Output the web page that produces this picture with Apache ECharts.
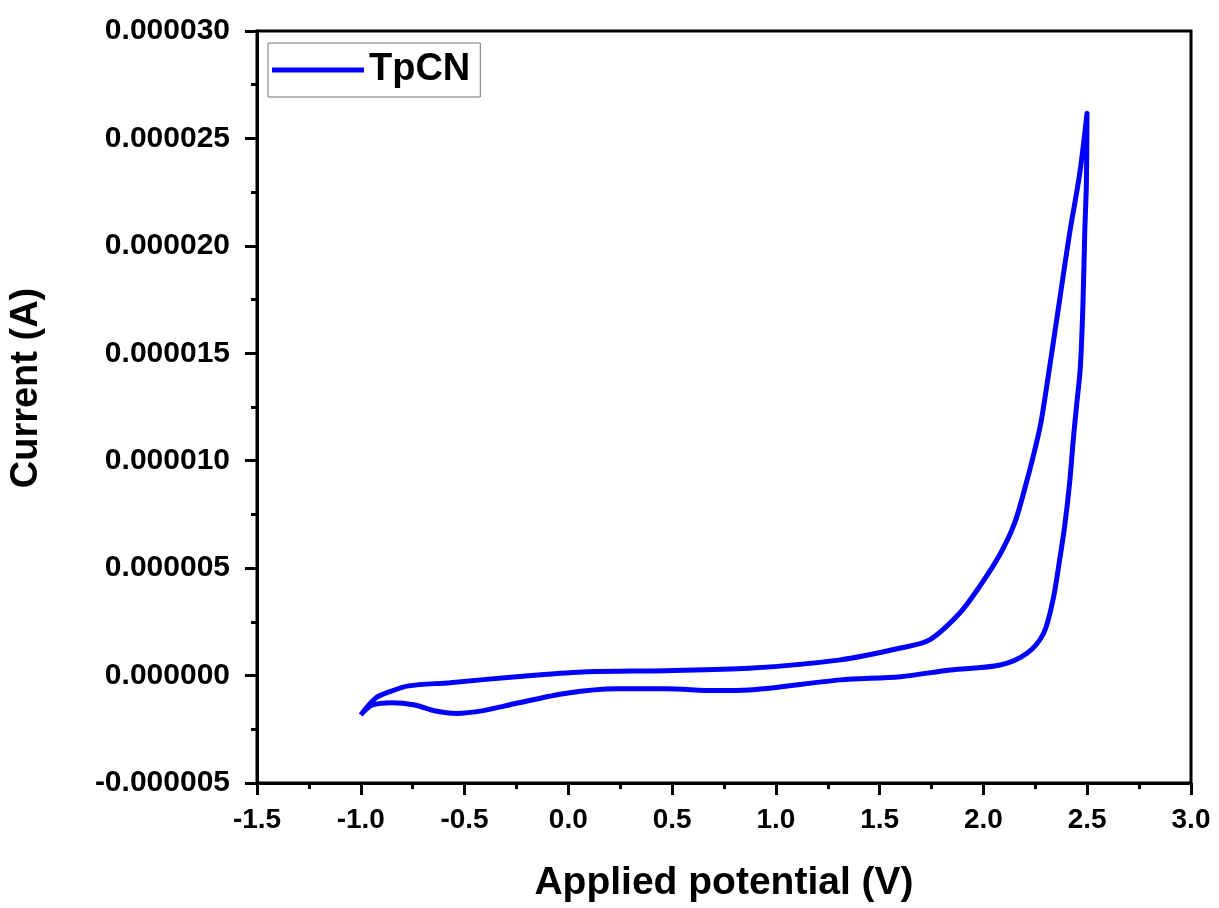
<!DOCTYPE html>
<html>
<head>
<meta charset="utf-8">
<script src="https://cdn.jsdelivr.net/npm/echarts@6/dist/echarts.min.js"></script>
<style>
  html, body { margin: 0; padding: 0; background: #fff; }
  #chart { width: 1219px; height: 908px; }
</style>
</head>
<body>
<div id="chart"></div>
<script>
// forward scan (-1.0 V -> 2.5 V), then reverse scan back to -1.0 V
const potential = [
  -1.00, -0.944, -0.85, -0.74, -0.64, -0.54, -0.41, -0.25, -0.01, 0.23, 0.47, 0.71, 0.87,
  1.31, 1.60, 1.84, 2.08, 2.21, 2.29, 2.335, 2.367, 2.391, 2.415, 2.433, 2.448, 2.467, 2.48, 2.488, 2.496, 2.499,
  2.464, 2.415, 2.367, 2.319, 2.279, 2.255, 2.206, 2.15, 2.078, 1.981, 1.885, 1.74, 1.595,
  1.31, 0.87, 0.47, 0.07, -0.25, -0.57, -0.77, -0.86, -0.93, -1.00
];
// current in microamps, converted to A below
const currentUA = [
  -1.83, -1.37, -1.26, -1.37, -1.65, -1.76, -1.63, -1.29, -0.82, -0.61, -0.61, -0.70, -0.67,
  -0.20, -0.05, 0.26, 0.49, 1.04, 1.97, 3.52, 5.38, 6.93, 8.95, 11.0, 12.5, 14.37, 17.48, 20.58, 22.91, 26.17,
  23.37, 20.58, 17.48, 14.37, 11.89, 10.81, 8.95, 7.09, 5.61, 4.14, 2.90, 1.66, 1.27,
  0.73, 0.34, 0.23, 0.17, -0.05, -0.33, -0.48, -0.75, -1.06, -1.83
];
const seriesName = 'TpCN';

const data = potential.map((v, i) => [v, currentUA[i] * 1e-6]);

const chart = echarts.init(document.getElementById('chart'));
const font = '"Liberation Sans", Arial, sans-serif';
const blue = '#0000ff';

chart.setOption({
  animation: false,
  grid: {
    left: 257, right: 28, top: 31, bottom: 125,
    show: true, borderColor: '#000', borderWidth: 3
  },
  legend: {
    left: 268, top: 43,
    data: [seriesName],
    icon: 'rect',
    itemWidth: 92, itemHeight: 5,
    borderColor: '#777', borderWidth: 1,
    padding: [8, 10, 8, 4],
    itemStyle: { color: blue },
    textStyle: { fontFamily: font, fontWeight: 'bold', fontSize: 38, color: '#000' }
  },
  xAxis: {
    type: 'value',
    min: -1.5, max: 3.0, interval: 0.5,
    name: 'Applied potential (V)',
    nameLocation: 'middle', nameGap: 81,
    nameTextStyle: { fontFamily: font, fontWeight: 'bold', fontSize: 39, color: '#000' },
    axisLine: { show: true, onZero: false, lineStyle: { color: '#000', width: 3 } },
    axisTick: { show: true, inside: false, length: 12, lineStyle: { width: 3, color: '#000' } },
    minorTick: { show: true, splitNumber: 2, length: 6, lineStyle: { width: 3, color: '#000' } },
    splitLine: { show: false },
    axisLabel: {
      margin: 23, color: '#000', fontFamily: font, fontWeight: 'bold', fontSize: 28,
      formatter: v => v.toFixed(1)
    }
  },
  yAxis: {
    type: 'value',
    min: -0.000005, max: 0.00003, interval: 0.000005,
    name: 'Current (A)',
    nameLocation: 'middle', nameGap: 211, nameRotate: 90,
    nameTextStyle: {
      fontFamily: font, fontWeight: 'bold', fontSize: 38, color: '#000',
      padding: [0, 0, 0, 38]
    },
    axisLine: { show: true, onZero: false, lineStyle: { color: '#000', width: 3 } },
    axisTick: { show: true, inside: false, length: 12, lineStyle: { width: 3, color: '#000' } },
    minorTick: { show: true, splitNumber: 2, length: 6, lineStyle: { width: 3, color: '#000' } },
    splitLine: { show: false },
    axisLabel: {
      margin: 27, color: '#000', fontFamily: font, fontWeight: 'bold', fontSize: 30,
      formatter: v => v.toFixed(6)
    }
  },
  series: [{
    name: seriesName,
    type: 'line',
    data: data,
    symbol: 'none',
    smooth: 0.3,
    lineStyle: { color: blue, width: 5 },
    itemStyle: { color: blue }
  }]
});
</script>
</body>
</html>
